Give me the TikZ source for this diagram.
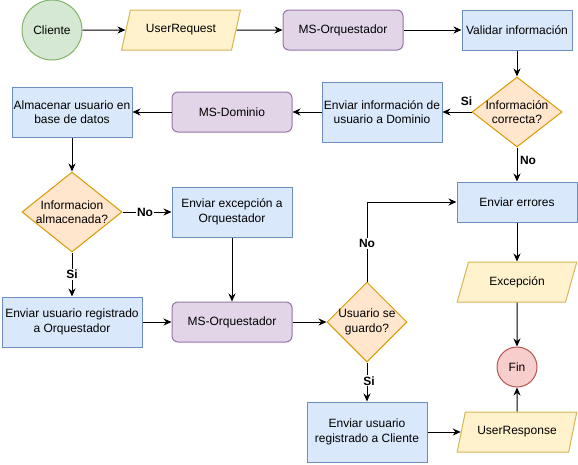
\documentclass[tikz,border=0pt]{standalone}
\usepackage{fontspec}
\setmainfont{Liberation Sans}
\usetikzlibrary{shapes.geometric,arrows.meta}
\definecolor{gfill}{HTML}{D5E8D4}\definecolor{gline}{HTML}{82B366}
\definecolor{yfill}{HTML}{FFF2CC}\definecolor{yline}{HTML}{D6B656}
\definecolor{pfill}{HTML}{E1D5E7}\definecolor{pline}{HTML}{9673A6}
\definecolor{bfill}{HTML}{DAE8FC}\definecolor{bline}{HTML}{6C8EBF}
\definecolor{ofill}{HTML}{FFE6CC}\definecolor{oline}{HTML}{D79B00}
\definecolor{rfill}{HTML}{F8CECC}\definecolor{rline}{HTML}{B85450}
\begin{document}
\begin{tikzpicture}[x=1pt,y=-1pt,line width=1pt,
  base/.style={font=\fontsize{12}{14.5}\selectfont, align=center, inner sep=1pt, line width=1pt},
  bluebox/.style={base, rectangle, draw=bline, fill=bfill, minimum width=120pt, minimum height=40pt},
  purpbox/.style={base, rectangle, rounded corners=6pt, draw=pline, fill=pfill, minimum width=120pt, minimum height=40pt},
  parabox/.style={base, trapezium, trapezium left angle=63.43, trapezium right angle=116.57, trapezium stretches=true, draw=yline, fill=yfill, minimum width=120pt, minimum height=40pt},
  diabox/.style={diamond, inner sep=0pt, draw=oline, fill=ofill, line width=1pt},
  greencirc/.style={base, circle, draw=gline, fill=gfill},
  redcirc/.style={base, circle, draw=rline, fill=rfill},
  arr/.style={-{Stealth[length=8pt,width=7pt]}, line width=1pt, black},
  lab/.style={font=\fontsize{12}{14}\selectfont\bfseries, inner sep=1pt}
]
\useasboundingbox (0,0) rectangle (578,464);
\node[greencirc, minimum size=60pt] (cli) at (52,30) {Cliente};
\node[parabox] (ureq) at (181,30) {UserRequest};
\node[purpbox] (orq1) at (343,30) {MS-Orquestador};
\node[bluebox, minimum width=110pt] (val) at (517,30) {Validar información};
\node[diabox, minimum width=90pt, minimum height=70pt] (d1) at (517,112) {};
\node[base] (d1t) at (d1) {Información\\correcta?};
\node[bluebox, minimum height=60pt] (envinf) at (382,112) {Enviar información de\\usuario a Dominio};
\node[purpbox] (dom) at (232,112) {MS-Dominio};
\node[bluebox, minimum height=50pt] (alm) at (72,112) {Almacenar usuario en\\base de datos};
\node[diabox, minimum width=100pt, minimum height=80pt] (d2) at (72,212) {};
\node[base] (d2t) at (d2) {Informacion\\almacenada?};
\node[bluebox, minimum height=50pt] (exc) at (232,212) {Enviar excepción a\\Orquestador};
\node[bluebox, minimum width=140pt, minimum height=50pt] (envorq) at (72,322) {Enviar usuario registrado\\a Orquestador};
\node[purpbox] (orq2) at (232,322) {MS-Orquestador};
\node[diabox, minimum width=80pt, minimum height=80pt] (d3) at (367,322) {};
\node[base] (d3t) at (d3) {Usuario se\\guardo?};
\node[bluebox] (err) at (517,202) {Enviar errores};
\node[parabox] (excp) at (517,282) {Excepción};
\node[redcirc, minimum size=40pt] (fin) at (517,367) {Fin};
\node[bluebox, minimum height=60pt] (envcli) at (367,432) {Enviar usuario\\registrado a Cliente};
\node[parabox] (uresp) at (517,432) {UserResponse};

\draw[arr] (cli) -- (ureq);
\draw[arr] (ureq) -- (orq1);
\draw[arr] (orq1) -- (val);
\draw[arr] (val) -- (d1);
\draw[arr] (d1) -- node[lab, pos=0.17, yshift=11pt]{Si} (envinf);
\draw[arr] (d1) -- node[lab, pos=0.37, xshift=11pt]{No} (err);
\draw[arr] (envinf) -- (dom);
\draw[arr] (dom) -- (alm);
\draw[arr] (alm) -- (d2);
\draw[arr] (d2) -- node[lab, fill=white, pos=0.46]{No} (exc);
\draw[arr] (d2) -- node[lab, fill=white, pos=0.5]{Si} (envorq);
\draw[arr] (exc) -- (orq2);
\draw[arr] (envorq) -- (orq2);
\draw[arr] (orq2) -- (d3);
\draw[arr] (d3.north) |- node[lab, fill=white, pos=0.24]{No} (err.west);
\draw[arr] (d3) -- node[lab, fill=white, pos=0.47, xshift=2pt]{Si} (envcli);
\draw[arr] (envcli) -- (uresp);
\draw[arr] (err) -- (excp);
\draw[arr] (excp) -- (fin);
\draw[arr] (uresp) -- (fin);
\end{tikzpicture}
\end{document}
